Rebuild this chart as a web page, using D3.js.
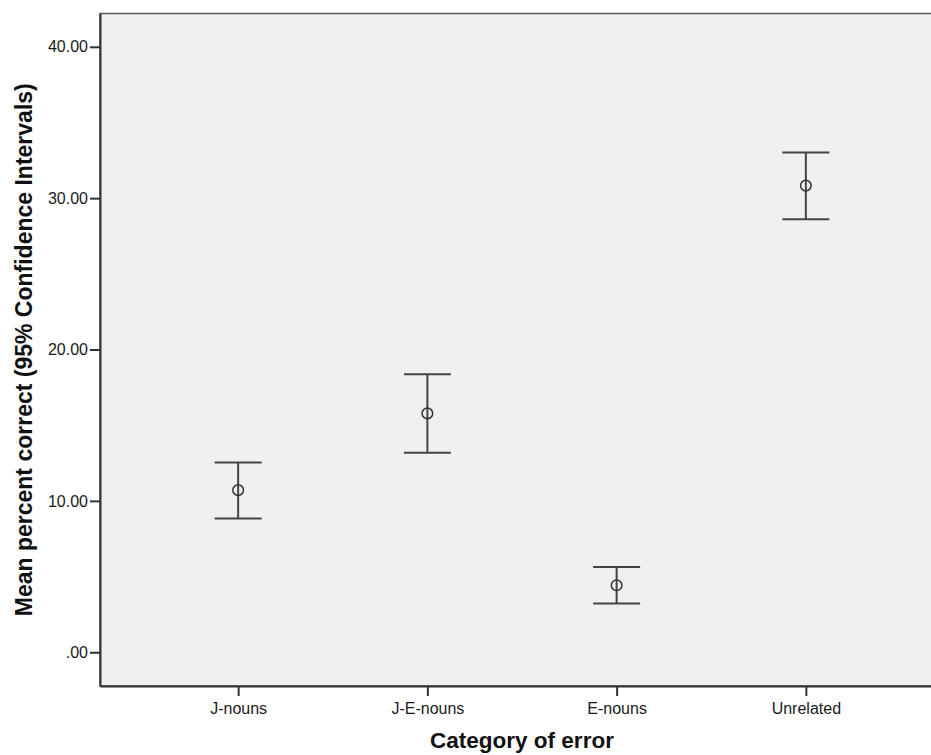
<!DOCTYPE html>
<html lang="en">
<head>
    <meta charset="UTF-8">
    <title>Mean percent correct by category of error</title>
    <style>
        body,html{
            margin:0;
            padding:0;
            border:0;
            background:#fff;
            font-family:"Liberation Sans", Arial, sans-serif;
        }
        svg{display:block;}
    </style>
</head>
<body>
    <svg id="svg" width="931" height="755"></svg>
    <script type="text/javascript" src="https://cdnjs.cloudflare.com/ajax/libs/d3/7.8.5/d3.min.js"></script>
    <script type="text/javascript">
        // values
        var categories = ["J-nouns", "J-E-nouns", "E-nouns", "Unrelated"];
        var means = [10.71, 15.78, 4.43, 30.83];
        var lower = [8.84, 13.18, 3.22, 28.61];
        var upper = [12.54, 18.36, 5.64, 33.01];
        var yTicks = [0, 10, 20, 30, 40];

        var margin = {left:100, top:13.5, right:944, bottom:686};
        var svg = d3.select("#svg");

        var x = d3.scalePoint().domain(categories).range([margin.left, margin.right]).padding(0.73);
        var y = d3.scaleLinear().domain([-2.23, 42.2]).range([margin.bottom, margin.top]);

        //plot background + frame
        svg.append("rect")
            .attr("x", margin.left).attr("y", margin.top)
            .attr("width", margin.right - margin.left)
            .attr("height", margin.bottom - margin.top)
            .attr("fill", "#f0f0f0")
            .attr("stroke", "#5a5a5a")
            .attr("stroke-width", 1.5);

        var fmt = function(d){
            var s = d3.format(".2f")(d);
            return s.replace(/^0\./, ".");
        };

        var yAxis = svg.append("g")
            .attr("transform", "translate(" + margin.left + ",0)")
            .call(d3.axisLeft(y).tickValues(yTicks).tickFormat(fmt).tickSize(10).tickSizeOuter(0).tickPadding(2));

        var xAxis = svg.append("g")
            .attr("transform", "translate(0," + margin.bottom + ")")
            .call(d3.axisBottom(x).tickSize(10).tickSizeOuter(0).tickPadding(7));

        [yAxis, xAxis].forEach(function(g){
            g.select(".domain").attr("stroke", "#333").attr("stroke-width", 2);
            g.selectAll(".tick line").attr("stroke", "#333").attr("stroke-width", 2);
            g.selectAll(".tick text")
                .attr("fill", "#1a1a1a")
                .style("font-family", '"Liberation Sans", Arial, sans-serif')
                .style("font-size", "16px");
        });

        //error bars
        var data = categories.map(function(c, i){
            return {cat:c, mean:means[i], lo:lower[i], hi:upper[i]};
        });
        var capHalf = 23.5;
        var bars = svg.append("g").selectAll("g").data(data).enter().append("g");

        bars.append("line")
            .attr("x1", function(d){return x(d.cat);})
            .attr("x2", function(d){return x(d.cat);})
            .attr("y1", function(d){return y(d.lo);})
            .attr("y2", function(d){return y(d.hi);})
            .attr("stroke", "#444").attr("stroke-width", 2);

        ["lo", "hi"].forEach(function(k){
            bars.append("line")
                .attr("x1", function(d){return x(d.cat) - capHalf;})
                .attr("x2", function(d){return x(d.cat) + capHalf;})
                .attr("y1", function(d){return y(d[k]);})
                .attr("y2", function(d){return y(d[k]);})
                .attr("stroke", "#444").attr("stroke-width", 2);
        });

        bars.append("circle")
            .attr("cx", function(d){return x(d.cat);})
            .attr("cy", function(d){return y(d.mean);})
            .attr("r", 5.3)
            .attr("fill", "none")
            .attr("stroke", "#333").attr("stroke-width", 1.5);

        //axis titles
        svg.append("text")
            .attr("x", (margin.left + margin.right) / 2)
            .attr("y", 748)
            .attr("text-anchor", "middle")
            .attr("fill", "#111")
            .style("font-weight", "bold")
            .style("font-size", "22.5px")
            .text("Category of error");

        svg.append("text")
            .attr("transform", "translate(32," + (margin.top + margin.bottom) / 2 + ") rotate(-90)")
            .attr("text-anchor", "middle")
            .attr("fill", "#111")
            .style("font-weight", "bold")
            .style("font-size", "23px")
            .text("Mean percent correct (95% Confidence Intervals)");
    </script>
</body>
</html>
